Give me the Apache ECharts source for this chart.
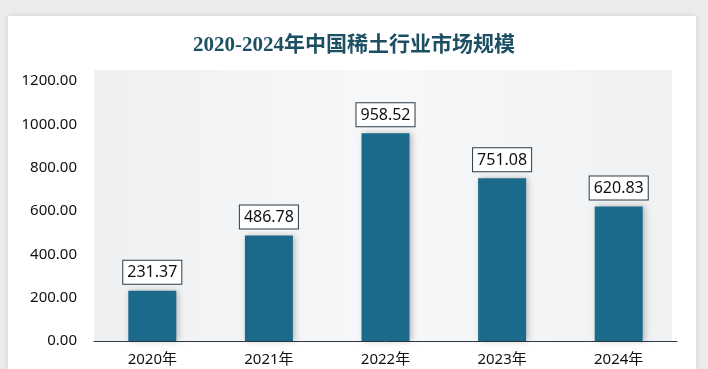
<!DOCTYPE html>
<html>
<head>
<meta charset="utf-8">
<script src="https://cdn.jsdelivr.net/npm/echarts@6/dist/echarts.min.js"></script>
<style>
  html, body { margin: 0; padding: 0; background: #ececec; }
  #chart { width: 708px; height: 369px; }
</style>
</head>
<body>
<div id="chart"></div>
<script>
const categories = ['2020年', '2021年', '2022年', '2023年', '2024年'];
const marketSize = [231.37, 486.78, 958.52, 751.08, 620.83];
const yTicks = [0, 200, 400, 600, 800, 1000, 1200];

const chart = echarts.init(document.getElementById('chart'));
chart.setOption({
  backgroundColor: '#ececec',
  animation: false,
  graphic: [{
    type: 'rect',
    z: -10,
    shape: { x: 8, y: 16, width: 688, height: 360 },
    style: { fill: '#ffffff', shadowBlur: 6, shadowColor: 'rgba(0,0,0,0.12)' }
  }, {
    type: 'rect',
    z: -9,
    shape: { x: 94, y: 70, width: 578, height: 271 },
    style: {
      fill: new echarts.graphic.LinearGradient(0, 0, 1, 0, [
        { offset: 0, color: '#eef0f2' },
        { offset: 0.5, color: '#f7f8f9' },
        { offset: 1, color: '#eff1f3' }
      ])
    }
  }],
  title: {
    text: '2020-2024年中国稀土行业市场规模',
    left: 'center',
    top: 30,
    textStyle: {
      color: '#1d4f63',
      fontSize: 21,
      fontWeight: 'bold',
      fontFamily: '"Liberation Serif", "Noto Sans CJK SC", serif'
    }
  },
  grid: {
    left: 94, right: 31, top: 81, bottom: 28
  },
  xAxis: {
    type: 'category',
    data: categories,
    axisLine: { lineStyle: { color: '#2a3a44', width: 1 } },
    axisTick: { show: false },
    axisLabel: { color: '#111', fontSize: 15, margin: 11, fontFamily: '"Noto Sans", "Noto Sans CJK SC", sans-serif' }
  },
  yAxis: {
    type: 'value',
    min: yTicks[0],
    max: yTicks[yTicks.length - 1],
    interval: 200,
    splitLine: { show: false },
    axisLine: { show: false },
    axisTick: { show: false },
    axisLabel: {
      color: '#111',
      fontSize: 15,
      margin: 17,
      fontFamily: '"Noto Sans", sans-serif',
      formatter: v => v.toFixed(2)
    }
  },
  series: [{
    type: 'bar',
    data: marketSize,
    barWidth: 48,
    itemStyle: {
      color: '#1b6a8c',
      shadowBlur: 6,
      shadowColor: 'rgba(0,0,0,0.25)',
      shadowOffsetX: 2
    },
    label: {
      show: true,
      position: 'top',
      distance: 7,
      formatter: p => p.value.toFixed(2),
      color: '#111',
      fontSize: 16,
      fontFamily: '"Noto Sans", sans-serif',
      backgroundColor: '#ffffff',
      borderColor: '#2a3a44',
      borderWidth: 1,
      padding: [4, 4, 3, 4]
    }
  }]
});
</script>
</body>
</html>
